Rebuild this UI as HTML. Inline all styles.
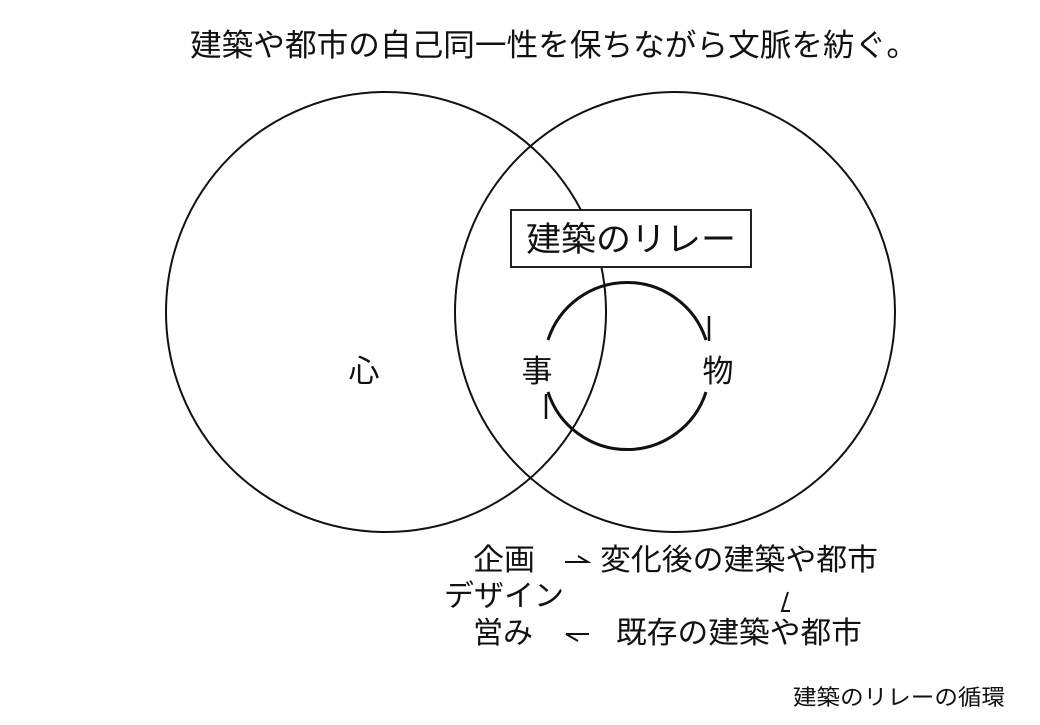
<!DOCTYPE html>
<html><head><meta charset="utf-8"><style>
body{margin:0;background:#fff;}
svg text{font-family:"Liberation Sans","Noto Sans CJK JP",sans-serif;fill:#111;}
</style></head><body>
<svg width="1040" height="720" viewBox="0 0 1040 720" xmlns="http://www.w3.org/2000/svg">
<text x="190" y="56" font-size="31" textLength="728" lengthAdjust="spacingAndGlyphs">建築や都市の自己同一性を保ちながら文脈を紡ぐ。</text>
<circle cx="386" cy="312" r="220" fill="none" stroke="#111" stroke-width="2"/>
<circle cx="675" cy="312" r="220" fill="none" stroke="#111" stroke-width="2"/>
<rect x="511" y="210" width="240" height="57" fill="#fff" stroke="#222" stroke-width="2"/>
<text x="526" y="251" font-size="34" textLength="210" lengthAdjust="spacingAndGlyphs">建築のリレー</text>
<path d="M548 340 A83 83 0 0 1 706 340" fill="none" stroke="#111" stroke-width="3"/>
<line x1="709" y1="316" x2="709" y2="341" stroke="#111" stroke-width="2.5"/>
<path d="M706 392 A83 83 0 0 1 548 392" fill="none" stroke="#111" stroke-width="3"/>
<line x1="546" y1="394" x2="546" y2="419" stroke="#111" stroke-width="2.5"/>
<text x="364" y="382" font-size="31" text-anchor="middle">心</text>
<text x="537" y="382" font-size="31" text-anchor="middle">事</text>
<text x="718" y="382" font-size="31" text-anchor="middle">物</text>
<g font-size="30">
<text x="473" y="570" textLength="62" lengthAdjust="spacingAndGlyphs">企画</text>
<text x="600" y="570" textLength="278" lengthAdjust="spacingAndGlyphs">変化後の建築や都市</text>
<text x="444" y="606" textLength="120" lengthAdjust="spacingAndGlyphs">デザイン</text>
<text x="473" y="643" textLength="60" lengthAdjust="spacingAndGlyphs">営み</text>
<text x="616" y="643" textLength="246" lengthAdjust="spacingAndGlyphs">既存の建築や都市</text>
</g>
<g stroke="#111" stroke-width="2" fill="none">
<path d="M565 562 H588 L578 556"/>
<path d="M788 592 L782 611 H790"/>
<path d="M566 634 H589 M566 634 L578 641"/>
</g>
<text x="793" y="705" font-size="22" textLength="212" lengthAdjust="spacingAndGlyphs">建築のリレーの循環</text>
</svg>
</body></html>
